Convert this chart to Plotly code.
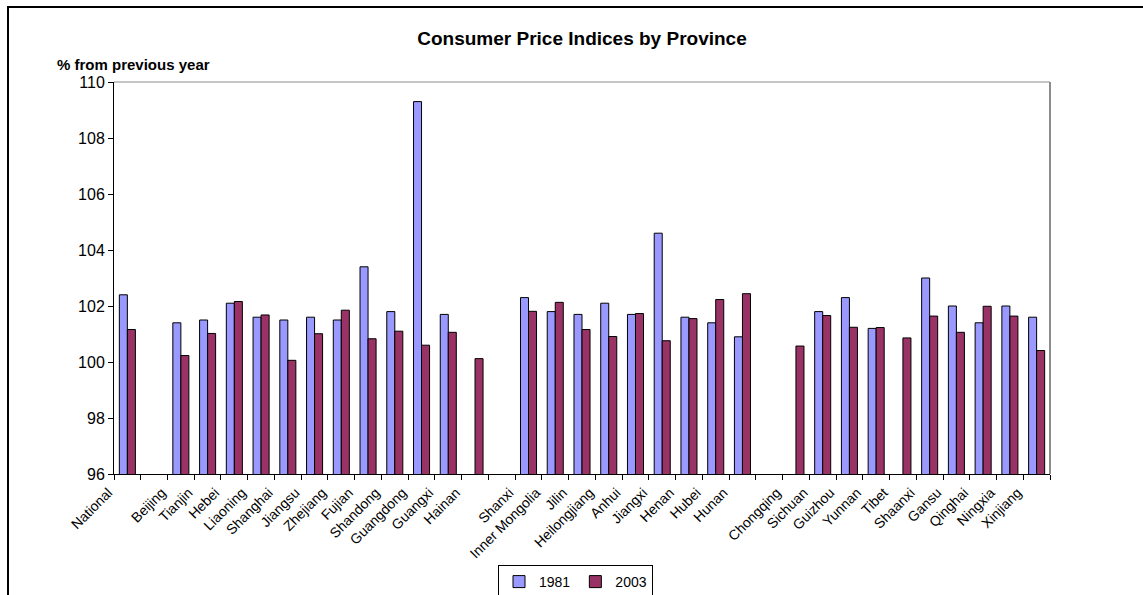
import plotly.graph_objects as go

# Category labels as they appear under the axis (blank slots are distinct whitespace strings)
categories = ["National", " ", "Beijing", "Tianjin", "Hebei", "Liaoning", "Shanghai",
              "Jiangsu", "Zhejiang", "Fujian", "Shandong", "Guangdong", "Guangxi",
              "Hainan", "  ", "Shanxi", "Inner Mongolia", "Jilin", "Heilongjiang",
              "Anhui", "Jiangxi", "Henan", "Hubei", "Hunan", "   ", "Chongqing",
              "Sichuan", "Guizhou", "Yunnan", "Tibet", "Shaanxi", "Gansu", "Qinghai",
              "Ningxia", "Xinjiang"]

cpi_1981 = [102.4, None, 101.4, 101.5, 102.1, 101.6, 101.5, 101.6, 101.5, 103.4,
            101.8, 109.3, 101.7, None, None, 102.3, 101.8, 101.7, 102.1, 101.7,
            104.6, 101.6, 101.4, 100.9, None, None, 101.8, 102.3, 101.2, None,
            103.0, 102.0, 101.4, 102.0, 101.6]

cpi_2003 = [101.16, None, 100.23, 101.02, 102.16, 101.68, 100.06, 101.01, 101.85, 100.83,
            101.1, 100.6, 101.06, 100.12, None, 101.81, 102.13, 101.16, 100.91, 101.73,
            100.76, 101.55, 102.23, 102.44, None, 100.57, 101.66, 101.24, 101.23, 100.86,
            101.64, 101.06, 101.99, 101.64, 100.41]

y_ticks = [96, 98, 100, 102, 104, 106, 108, 110]

W, H = 1143, 595
L, R, T, B = 114, 93, 82, 121
pw, ph = W - L - R, H - T - B

def px_x(p):
    return (p - L) / pw

def px_y(p):
    return (H - B - p) / ph

font_family = "Liberation Sans, Arial, sans-serif"

fig = go.Figure()
fig.add_trace(go.Bar(x=categories, y=cpi_1981, name="1981",
                     marker=dict(color="#9999FF", line=dict(color="#000000", width=1))))
fig.add_trace(go.Bar(x=categories, y=cpi_2003, name="2003",
                     marker=dict(color="#993366", line=dict(color="#000000", width=1))))

fig.update_layout(
    width=W, height=H,
    margin=dict(l=L, r=R, t=T, b=B, autoexpand=False),
    paper_bgcolor="white", plot_bgcolor="white",
    barmode="group", bargap=0.4, bargroupgap=0,
    font=dict(family=font_family, size=14, color="black"),
    title=dict(text="<b>Consumer Price Indices by Province</b>",
               x=0.5, xref="paper", xanchor="center",
               y=1 - 38 / H, yref="container", yanchor="middle",
               font=dict(family=font_family, size=19, color="black")),
    showlegend=True,
    legend=dict(orientation="h", x=px_x(575.5), xanchor="center",
                y=px_y(565), yanchor="top",
                bordercolor="black", borderwidth=1, bgcolor="white",
                font=dict(size=14), itemwidth=30, tracegroupgap=0),
    xaxis=dict(type="category", showline=True, linecolor="black", linewidth=1,
               ticks="outside", tickson="boundaries", ticklen=5, tickcolor="black",
               tickangle=-45, showgrid=False, zeroline=False,
               ticklabelshift=-19, ticklabelstandoff=4,
               tickfont=dict(size=14)),
    yaxis=dict(range=[96, 110], tickvals=y_ticks,
               ticktext=[str(v) for v in y_ticks],
               showline=True, linecolor="black", linewidth=1,
               ticks="outside", ticklen=5, tickcolor="black",
               showgrid=False, zeroline=False, tickfont=dict(size=16)),
    annotations=[dict(text="<b>% from previous year</b>", xref="paper", yref="paper",
                      x=px_x(55), y=px_y(64), xanchor="left", yanchor="middle",
                      showarrow=False, font=dict(size=15, color="black"))],
    shapes=[
        dict(type="line", xref="paper", yref="paper", x0=0, x1=1, y0=1, y1=1,
             line=dict(color="#8c8c8c", width=1)),
        dict(type="line", xref="paper", yref="paper", x0=1, x1=1, y0=0, y1=1,
             line=dict(color="#8c8c8c", width=2)),
        dict(type="rect", xref="paper", yref="paper",
             x0=px_x(8), x1=px_x(1150), y0=px_y(7), y1=px_y(600),
             line=dict(color="black", width=2), fillcolor="rgba(0,0,0,0)"),
    ],
)

fig.write_html("out.html", config={"displayModeBar": False},
               post_script="document.body.style.margin='0';document.body.style.overflow='hidden';")
